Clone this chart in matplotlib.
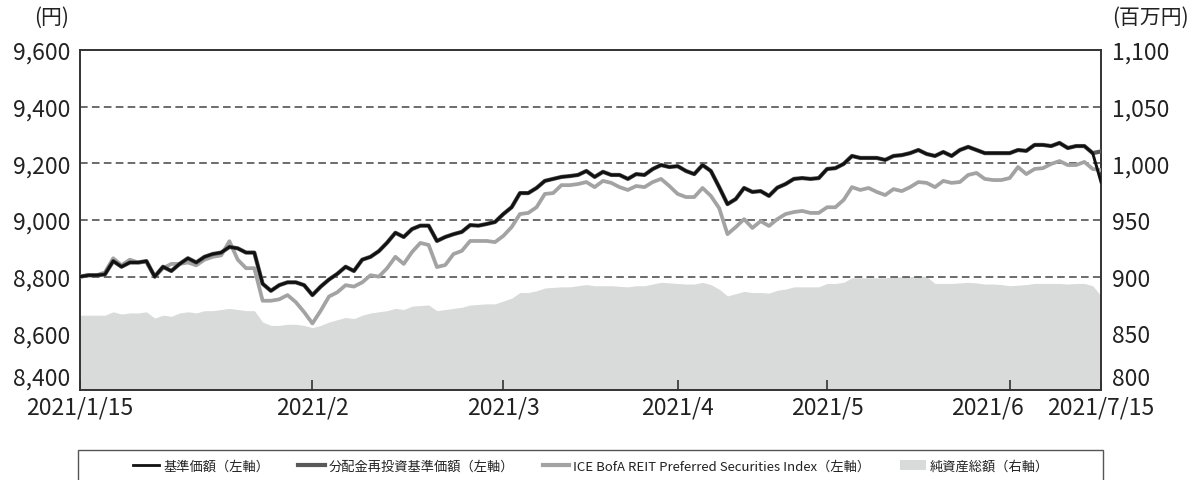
import numpy as np
import matplotlib
matplotlib.use("Agg")
import matplotlib.pyplot as plt
from matplotlib.patches import Rectangle, Patch
from matplotlib.lines import Line2D
from matplotlib.transforms import ScaledTranslation

plt.rcParams['font.family'] = ['Noto Sans CJK JP', 'DejaVu Sans']

# 基準価額 (left axis, yen) - daily points
nav = [8800, 8805, 8805, 8808, 8855, 8835, 8850, 8850, 8855, 8800,
       8835, 8820, 8845, 8865, 8850, 8870, 8880, 8885, 8905, 8900,
       8885, 8885, 8775, 8750, 8770, 8780, 8780, 8770, 8735, 8765,
       8790, 8810, 8835, 8820, 8860, 8870, 8890, 8920, 8955, 8940,
       8968, 8980, 8980, 8926, 8940, 8950, 8958, 8982, 8980, 8986,
       8993, 9021, 9045, 9095, 9095, 9113, 9138, 9145, 9152, 9155,
       9159, 9173, 9152, 9170, 9159, 9159, 9145, 9162, 9159, 9180,
       9194, 9187, 9190, 9173, 9162, 9194, 9173, 9116, 9056, 9074,
       9113, 9099, 9102, 9085, 9114, 9127, 9145, 9148, 9145, 9148,
       9180, 9183, 9198, 9226, 9219, 9219, 9219, 9212, 9226, 9229,
       9236, 9247, 9233, 9226, 9240, 9226, 9247, 9258, 9247, 9236,
       9236, 9236, 9236, 9247, 9244, 9265, 9265, 9261, 9272, 9254,
       9261, 9261, 9236, 9134]

# 分配金再投資基準価額 - same as nav until the distribution at the end
nav_reinvest = nav[:-1] + [9242]

# ICE BofA REIT Preferred Securities Index (left axis)
index_vals = [8800, 8805, 8805, 8815, 8865, 8840, 8860, 8850, 8852, 8800,
              8830, 8845, 8845, 8850, 8840, 8860, 8870, 8875, 8925, 8860,
              8830, 8830, 8715, 8715, 8720, 8735, 8710, 8675, 8635, 8680,
              8730, 8745, 8770, 8765, 8780, 8805, 8800, 8830, 8870, 8845,
              8887, 8919, 8912, 8834, 8841, 8880, 8891, 8926, 8926, 8926,
              8922, 8944, 8975, 9021, 9025, 9045, 9092, 9095, 9123, 9123,
              9127, 9134, 9116, 9138, 9131, 9116, 9106, 9120, 9116, 9134,
              9145, 9120, 9092, 9081, 9081, 9113, 9085, 9042, 8950, 8975,
              9003, 8972, 8996, 8979, 9003, 9021, 9028, 9032, 9025, 9025,
              9045, 9045, 9071, 9116, 9106, 9113, 9099, 9088, 9109, 9102,
              9116, 9134, 9131, 9116, 9138, 9131, 9134, 9159, 9166, 9145,
              9141, 9141, 9148, 9187, 9162, 9180, 9183, 9198, 9208, 9194,
              9194, 9205, 9180, 9176]

# 純資産総額 (right axis, million yen)
net_assets = [866, 866, 866, 866, 869, 867, 868, 868, 869, 863.5,
              866, 865, 868, 869, 868, 870, 870, 871, 872, 871,
              870, 870, 860, 857, 857, 858, 858, 857, 855, 857,
              860, 862, 864, 863, 866, 868, 869, 870, 872, 871,
              874, 874.5, 875, 870, 871, 872, 873, 875, 875.5, 876,
              876, 878.5, 881, 886, 886, 887.5, 890, 890.5, 891, 891,
              892, 893, 892, 892, 892, 891.5, 891, 892, 892, 893.5,
              895, 894.5, 894, 893.5, 893.5, 895, 893, 889, 883, 885,
              887, 886, 886, 885.5, 888, 889, 891, 891, 891, 891,
              894, 894, 895, 899, 899, 899, 899, 899, 899.5, 900,
              900, 901, 900, 894, 894, 894, 894.5, 895, 894.5, 893.5,
              893.5, 893, 892, 892.5, 893, 894, 894, 894, 894, 893.5,
              894, 894, 892, 883]

tick_pos = [0, 28, 51, 72, 90, 112, 123]
tick_labels = ['2021/1/15', '2021/2', '2021/3', '2021/4', '2021/5', '2021/6', '2021/7/15']
left_ticks = [8400, 8600, 8800, 9000, 9200, 9400, 9600]
right_ticks = [800, 850, 900, 950, 1000, 1050, 1100]

x = np.arange(len(nav))

fig = plt.figure(figsize=(11.92, 4.81), dpi=100)
ax = fig.add_axes([80/1192, 1-391/481, (1101-80)/1192, (391-51)/481])
ax2 = ax.twinx()
ax.set_zorder(2)
ax2.set_zorder(1)
ax.patch.set_visible(False)

# net assets area on right axis
ax2.fill_between(x, 800, net_assets, color='#d9dada', linewidth=0)
ax2.set_ylim(800, 1100)
ax2.set_yticks(right_ticks)
ax2.set_yticklabels(['{:,}'.format(v) for v in right_ticks])

# dashed grid
for v in [8800, 9000, 9200, 9400]:
    ax.axhline(v, color='#444444', lw=1.1, ls=(0, (5, 2.8)), zorder=0)

ax.plot(x, index_vals, color='#a3a3a3', lw=2.7, zorder=3)
ax.plot(x, nav_reinvest, color='#595959', lw=3.0, zorder=4)
ax.plot(x, nav, color='#111111', lw=2.1, zorder=5)

ax.set_xlim(0, len(nav) - 1)
ax.set_ylim(8400, 9600)
ax.set_yticks(left_ticks)
ax.set_yticklabels(['{:,}'.format(v) for v in left_ticks])
ax.set_xticks(tick_pos)
ax.set_xticklabels(tick_labels)

for a in (ax, ax2):
    for s in a.spines.values():
        s.set_color('#333333')
        s.set_linewidth(1.2)
ax.tick_params(axis='y', length=0, pad=7, labelsize=16.5, colors='#222222')
ax2.tick_params(axis='y', length=0, pad=8, labelsize=16.5, colors='#222222')
ax.tick_params(axis='x', direction='in', length=7, width=1.2, color='#333333',
               pad=4, labelsize=16.5, labelcolor='#222222')

# lowest y labels sit just above the bottom spine
ax.get_yticklabels()[0].set_va('bottom')
ax2.get_yticklabels()[0].set_va('bottom')
# nudge 2021/6 left so it clears the end label
lab6 = ax.get_xticklabels()[5]
lab6.set_transform(lab6.get_transform() + ScaledTranslation(-0.22, 0, fig.dpi_scale_trans))

fig.text(52/1192, 1-18/481, '(円)', ha='center', va='center', fontsize=15, color='#222222')
fig.text(1150/1192, 1-18/481, '(百万円)', ha='center', va='center', fontsize=15, color='#222222')

# legend box running off the bottom edge
fig.patches.append(Rectangle((78/1192, -0.2), (1103-78)/1192, 0.2 + (481-451)/481,
                             transform=fig.transFigure, fill=False,
                             edgecolor='#555555', linewidth=1.0))
handles = [Line2D([], [], color='#111111', lw=2.0),
           Line2D([], [], color='#595959', lw=3.0),
           Line2D([], [], color='#a3a3a3', lw=3.0),
           Patch(facecolor='#d9dada', edgecolor='none')]
labels = ['基準価額（左軸）', '分配金再投資基準価額（左軸）',
          'ICE BofA REIT Preferred Securities Index（左軸）', '純資産総額（右軸）']
fig.legend(handles, labels, loc='center', bbox_to_anchor=(591/1192, 1-467/481),
           ncol=4, frameon=False, fontsize=9.5, handlelength=2.0,
           handletextpad=0.3, columnspacing=2.2, labelcolor='#222222')

fig.savefig('out.png', dpi=100)
